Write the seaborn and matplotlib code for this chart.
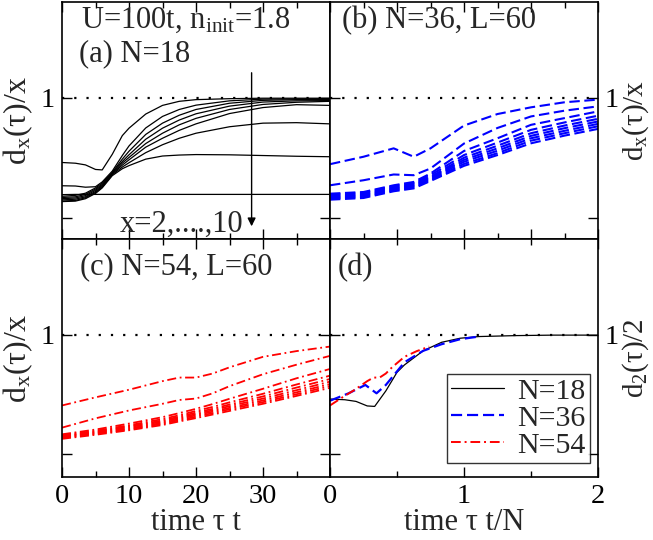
import matplotlib
matplotlib.use("Agg")
import matplotlib.pyplot as plt
import seaborn as sns
from matplotlib.lines import Line2D

# ---------------- data ----------------
# panel (a): N=18, time tau*t
t_n18 = [0, 2, 3.5, 5, 6, 7.5, 9, 10, 12.5, 15, 17.5, 20, 25, 30, 35, 40]
n18_x2 = [0.731, 0.728, 0.721, 0.702, 0.700, 0.765, 0.843, 0.874, 0.933, 0.969, 0.986, 0.993, 0.997, 0.999, 0.999, 0.999]
n18_x3 = [0.634, 0.633, 0.628, 0.630, 0.650, 0.695, 0.760, 0.800, 0.875, 0.923, 0.952, 0.970, 0.988, 0.995, 0.996, 0.997]
n18_x4 = [0.590, 0.594, 0.603, 0.625, 0.645, 0.690, 0.745, 0.778, 0.848, 0.895, 0.928, 0.952, 0.978, 0.990, 0.993, 0.993]
n18_x5 = [0.585, 0.588, 0.598, 0.620, 0.640, 0.688, 0.735, 0.763, 0.828, 0.874, 0.908, 0.934, 0.966, 0.983, 0.988, 0.989]
n18_x6 = [0.580, 0.583, 0.593, 0.615, 0.636, 0.685, 0.728, 0.752, 0.810, 0.853, 0.888, 0.915, 0.952, 0.973, 0.982, 0.986]
n18_x7 = [0.575, 0.578, 0.588, 0.610, 0.632, 0.683, 0.720, 0.742, 0.795, 0.832, 0.865, 0.892, 0.935, 0.960, 0.972, 0.969]
n18_x8 = [0.570, 0.573, 0.584, 0.606, 0.628, 0.680, 0.712, 0.730, 0.772, 0.805, 0.832, 0.853, 0.880, 0.895, 0.897, 0.892]
n18_x9 = [0.568, 0.570, 0.580, 0.602, 0.625, 0.676, 0.705, 0.718, 0.745, 0.758, 0.762, 0.764, 0.763, 0.760, 0.757, 0.755]
n18_x10 = [0.597, 0.598, 0.598, 0.598, 0.598, 0.598, 0.598, 0.598, 0.598, 0.598, 0.598, 0.598, 0.598, 0.598, 0.598, 0.598]

# panel (b): N=36, L=60
t_n36 = [0, 5, 9.5, 12.5, 15, 20, 25, 30, 35, 40]
n36_x2 = [0.724, 0.755, 0.790, 0.755, 0.790, 0.885, 0.933, 0.961, 0.982, 0.993]
n36_x3 = [0.636, 0.657, 0.681, 0.678, 0.706, 0.810, 0.875, 0.923, 0.947, 0.965]
n36_x4 = [0.601, 0.608, 0.636, 0.650, 0.685, 0.779, 0.832, 0.888, 0.916, 0.944]
n36_x5 = [0.597, 0.604, 0.632, 0.645, 0.678, 0.762, 0.814, 0.867, 0.898, 0.926]
n36_x6 = [0.592, 0.599, 0.627, 0.640, 0.671, 0.751, 0.801, 0.853, 0.885, 0.913]
n36_x7 = [0.588, 0.595, 0.623, 0.636, 0.667, 0.742, 0.790, 0.842, 0.874, 0.902]
n36_x8 = [0.584, 0.591, 0.619, 0.632, 0.662, 0.734, 0.780, 0.832, 0.863, 0.892]
n36_x9 = [0.580, 0.587, 0.615, 0.627, 0.658, 0.725, 0.770, 0.822, 0.853, 0.882]
n36_x10 = [0.576, 0.583, 0.611, 0.623, 0.654, 0.717, 0.762, 0.811, 0.843, 0.871]

# panel (c): N=54, L=60
t_n54 = [0, 5, 10, 15, 17.5, 20, 22.5, 25, 30, 35, 40]
n54_x2 = [0.704, 0.738, 0.770, 0.806, 0.821, 0.821, 0.838, 0.864, 0.908, 0.932, 0.951]
n54_x3 = [0.611, 0.650, 0.683, 0.711, 0.727, 0.733, 0.755, 0.785, 0.835, 0.875, 0.912]
n54_x4 = [0.583, 0.603, 0.628, 0.655, 0.672, 0.690, 0.710, 0.732, 0.774, 0.818, 0.857]
n54_x5 = [0.579, 0.598, 0.621, 0.647, 0.663, 0.681, 0.698, 0.717, 0.753, 0.792, 0.829]
n54_x6 = [0.576, 0.594, 0.617, 0.641, 0.657, 0.674, 0.690, 0.708, 0.742, 0.779, 0.815]
n54_x7 = [0.574, 0.591, 0.613, 0.636, 0.652, 0.668, 0.684, 0.701, 0.733, 0.768, 0.804]
n54_x8 = [0.571, 0.588, 0.608, 0.631, 0.647, 0.663, 0.678, 0.694, 0.725, 0.759, 0.794]
n54_x9 = [0.568, 0.585, 0.604, 0.627, 0.642, 0.657, 0.672, 0.688, 0.718, 0.751, 0.786]
n54_x10 = [0.564, 0.581, 0.600, 0.622, 0.637, 0.651, 0.666, 0.681, 0.711, 0.744, 0.778]

legend_labels = ["N=18", "N=36", "N=54"]
tick_x_left = [0, 10, 20, 30, 40]
tick_x_left_labels = ["0", "10", "20", "30", ""]
tick_x_right = [0, 1, 2]
tick_y = [0.5, 1.0]
tick_y_labels = ["", "1"]

# ---------------- style ----------------
sns.set_style("ticks")
plt.rcParams['font.family'] = ['Liberation Serif', 'DejaVu Serif']
plt.rcParams['mathtext.fontset'] = 'custom'
plt.rcParams['mathtext.rm'] = 'Liberation Serif'
plt.rcParams['mathtext.it'] = 'Liberation Serif'

FS_TICK = 20.5
FS_LAB = 22
FS_YLAB = 23
FS_YLAB_R = 21
FS_TXT = 22

BLACK_LS = '-'
BLUE_LS = (0, (5, 2.2))
RED_LS = (0, (5, 2, 1, 2))

fig, axes = plt.subplots(2, 2, figsize=(6.53, 5.40), dpi=100)
fig.subplots_adjust(left=62/653, right=598/653, bottom=1-477/540, top=1-2/540,
                    wspace=0, hspace=0)
axa, axb = axes[0]
axc, axd = axes[1]


def draw(ax, t, ys, color, ls, lw, scale=1.0):
    for y in ys:
        sns.lineplot(x=[v / scale for v in t], y=y, ax=ax, color=color, linestyle=ls,
                     lw=lw, estimator=None, sort=False, legend=False)


draw(axa, t_n18, [n18_x2, n18_x3, n18_x4, n18_x5, n18_x6, n18_x7, n18_x8, n18_x9, n18_x10],
     'black', BLACK_LS, 0.9)
draw(axb, t_n36, [n36_x2, n36_x3, n36_x4, n36_x5, n36_x6, n36_x7, n36_x8, n36_x9, n36_x10],
     '#0000ff', BLUE_LS, 1.5)
draw(axc, t_n54, [n54_x2, n54_x3, n54_x4, n54_x5, n54_x6, n54_x7, n54_x8, n54_x9, n54_x10],
     '#ff0000', RED_LS, 1.3)
draw(axd, t_n18, [n18_x2], 'black', BLACK_LS, 0.9, scale=18)
draw(axd, t_n36, [n36_x2], '#0000ff', BLUE_LS, 1.6, scale=36)
draw(axd, t_n54, [n54_x2], '#ff0000', RED_LS, 1.4, scale=54)

for ax in [axa, axb, axc, axd]:
    ax.axhline(1.0, color='black', ls=(0, (1, 4.5)), lw=1.6, zorder=0.5)
    for s in ax.spines.values():
        s.set_linewidth(1.2)
        s.set_color('black')
    ax.tick_params(which='both', direction='in', top=True, right=True,
                   labelsize=FS_TICK, width=1.0, colors='black', pad=5)
    ax.tick_params(which='major', length=7)
    ax.tick_params(which='minor', length=4)
    ax.set_yticks(tick_y)
    ax.set_yticklabels(tick_y_labels)
    ax.set_xlabel("")
    ax.set_ylabel("")

for ax in [axa, axb]:
    ax.set_ylim(0.41, 1.40)
for ax in [axc, axd]:
    ax.set_ylim(0.404, 1.40)

for ax in [axa, axb, axc]:
    ax.set_xlim(0, 40)
    ax.set_xticks(tick_x_left)
    ax.set_xticks([5, 15, 25, 35], minor=True)
axc.set_xticklabels(tick_x_left_labels)
axa.tick_params(labelbottom=False)
axb.tick_params(labelbottom=False)

axd.set_xlim(0, 2)
axd.set_xticks(tick_x_right)
axd.set_xticklabels([str(v) for v in tick_x_right])
axd.set_xticks([0.5, 1.5], minor=True)

for ax in [axb, axd]:
    ax.tick_params(labelleft=False, labelright=True)
    ax.yaxis.set_label_position('right')

ylab_x = 'd$_{\\mathregular{x}}$(τ)/x'
axa.set_ylabel(ylab_x, fontsize=FS_YLAB, labelpad=4)
axc.set_ylabel(ylab_x, fontsize=FS_YLAB, labelpad=4)
axb.set_ylabel(ylab_x, fontsize=FS_YLAB_R, labelpad=1, rotation=90)
axd.set_ylabel('d$_{\\mathregular{2}}$(τ)/2', fontsize=FS_YLAB_R, labelpad=1, rotation=90)
axc.set_xlabel('time τ t', fontsize=FS_LAB, labelpad=-1)
axd.set_xlabel('time τ t/N', fontsize=FS_LAB, labelpad=-1)

# annotations
axa.text(0.07, 0.985, 'U=100t, n$_{\\mathregular{init}}$=1.8', transform=axa.transAxes,
         fontsize=FS_TXT, va='top', ha='left')
axa.text(0.065, 0.845, '(a) N=18', transform=axa.transAxes, fontsize=FS_TXT, va='top', ha='left')
axb.text(0.045, 0.985, '(b) N=36, L=60', transform=axb.transAxes, fontsize=FS_TXT, va='top', ha='left')
axc.text(0.067, 0.945, '(c) N=54, L=60', transform=axc.transAxes, fontsize=FS_TXT, va='top', ha='left')
axd.text(0.027, 0.945, '(d)', transform=axd.transAxes, fontsize=FS_TXT, va='top', ha='left')
axa.text(8.6, 0.441, 'x=2,....,10', fontsize=FS_TXT, va='baseline', ha='left')
axa.annotate('', xy=(28.3, 0.465), xytext=(28.3, 1.105),
             arrowprops=dict(arrowstyle='-|>', color='black', lw=1.0, mutation_scale=12,
                             shrinkA=0, shrinkB=0))

handles = [Line2D([], [], color='black', ls=BLACK_LS, lw=0.9),
           Line2D([], [], color='#0000ff', ls=BLUE_LS, lw=1.6),
           Line2D([], [], color='#ff0000', ls=RED_LS, lw=1.4)]
leg = axd.legend(handles, legend_labels, loc='lower right', bbox_to_anchor=(0.97, 0.058),
                 fontsize=21.5, frameon=True, fancybox=False, handlelength=1.75,
                 handletextpad=0.45, labelspacing=0.0, borderpad=0.15, borderaxespad=0)
leg.get_frame().set_edgecolor('black')
leg.get_frame().set_linewidth(1.0)

fig.savefig('out.png', dpi=100)
